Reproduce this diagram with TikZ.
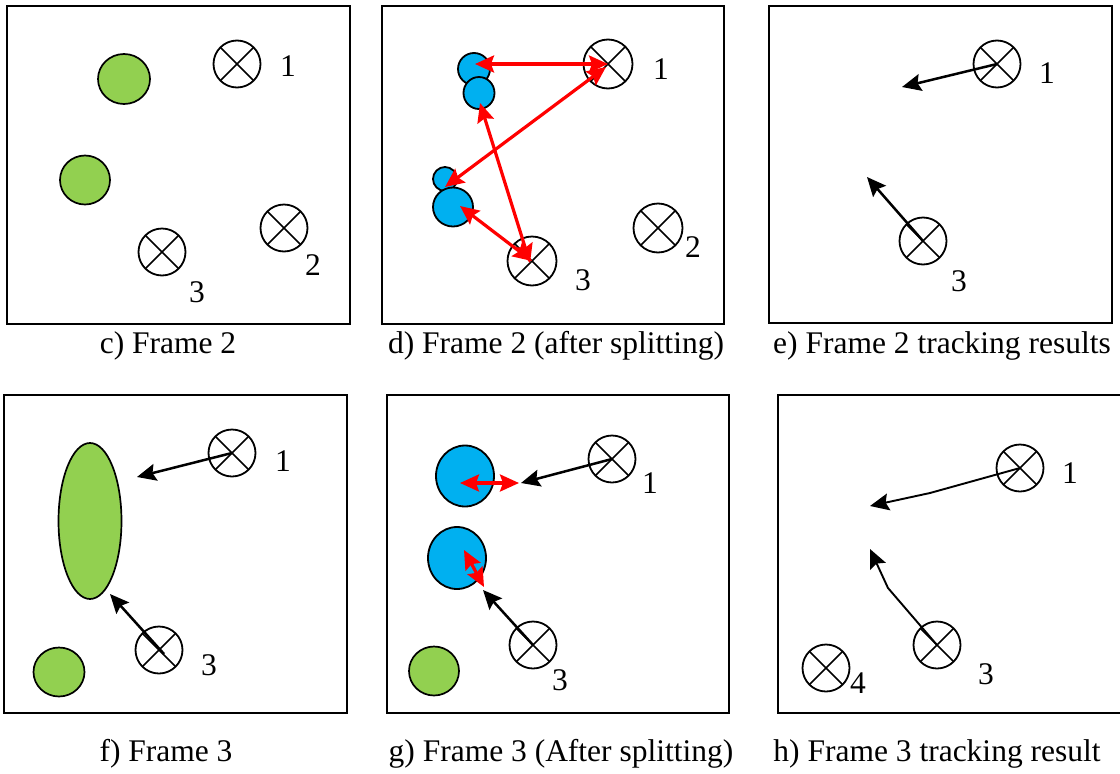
\documentclass[tikz,border=0pt]{standalone}
\usepackage{fontspec}
\setmainfont{Liberation Serif}
\usetikzlibrary{shapes.geometric,arrows.meta}

\definecolor{blobgreen}{HTML}{92D050}
\definecolor{blobblue}{HTML}{00B0F0}
\definecolor{linkred}{HTML}{FF0000}

\begin{document}
\begin{tikzpicture}[x=1pt,y=-1pt,
  frame/.style={draw, line width=2pt},
  target/.style={circle, draw, line width=1.8pt, minimum size=47pt, inner sep=0pt,
    path picture={\draw[line width=1.7pt]
      ([shift={(45:30pt)}]path picture bounding box.center) -- ([shift={(225:30pt)}]path picture bounding box.center)
      ([shift={(135:30pt)}]path picture bounding box.center) -- ([shift={(-45:30pt)}]path picture bounding box.center);}},
  gblob/.style={ellipse, draw, line width=1.7pt, fill=blobgreen, inner sep=0pt},
  bblob/.style={ellipse, draw, line width=1.8pt, fill=blobblue, inner sep=0pt},
  num/.style={inner sep=0pt, font=\rmfamily\fontsize{31.5}{36}\selectfont},
  caption/.style={inner sep=0pt, anchor=base, font=\rmfamily\fontsize{31.5}{36}\selectfont},
  head/.tip={Stealth[length=19pt,width=17pt,inset=3pt]},
  move/.style={line width=2.5pt, -head},
  thinmove/.style={line width=1.9pt, line join=round, -head},
  link/.style={linkred, line width=3.2pt, head-head}
]
\useasboundingbox (0,0) rectangle (1120,774);

% ---------- c) Frame 2 ----------
\draw[frame] (7,6) rectangle (350,324);
\node[gblob, minimum width=52pt, minimum height=50pt] (cg1) at (124,79) {};
\node[gblob, minimum width=50pt, minimum height=49pt] (cg2) at (85,180) {};
\node[target] (ct1) at (237,64) {};
\node[num] (cn1) at (288,66) {1};
\node[target] (ct2) at (284,228) {};
\node[num] (cn2) at (313,265) {2};
\node[target] (ct3) at (162,252) {};
\node[num] (cn3) at (197,292) {3};
\node[caption] (ccap) at (168,353) {c) Frame 2};

% ---------- d) Frame 2 (after splitting) ----------
\draw[frame] (382,6) rectangle (724,324);
\node[bblob, minimum width=32pt, minimum height=32pt] (dbA) at (474,69) {};
\node[bblob, minimum width=31pt, minimum height=32pt] (dbB) at (479,93) {};
\node[bblob, minimum width=24pt, minimum height=24pt] (dbC) at (445,179) {};
\node[bblob, minimum width=40pt, minimum height=39pt] (dbD) at (453,207) {};
\node[target, minimum size=49pt] (dt1) at (608,64) {};
\node[num] (dn1) at (661,69) {1};
\node[target, minimum size=49pt] (dt2) at (658,228) {};
\node[num] (dn2) at (693,247) {2};
\node[target, minimum size=49pt] (dt3) at (532,261) {};
\node[num] (dn3) at (583,280) {3};
\coordinate (dpA) at (475,64);
\coordinate (dpC) at (445,187);
\coordinate (dpB) at (480,103);
\coordinate (dpD) at (460,206);
\draw[link] (dpA) -- (dt1.center);
\draw[link] (dpC) -- ([shift={(-2,3)}]dt1.center);
\draw[link] (dpB) -- ([shift={(-2,2)}]dt3.center);
\draw[link] (dpD) -- (dt3.center);
\node[caption] (dcap) at (556,353) {d) Frame 2 (after splitting)};

% ---------- e) Frame 2 tracking results ----------
\draw[frame] (769,6) rectangle (1112,323);
\node[target] (et1) at (997,64) {};
\node[num] (en1) at (1047,73) {1};
\node[target] (et3) at (923,241) {};
\node[num] (en3) at (959,281) {3};
\coordinate (ep1) at (902,87);
\coordinate (ep3) at (867,177);
\draw[move] (et1.center) -- (ep1);
\draw[move] (et3.center) -- (ep3);
\node[caption] (ecap) at (942,353) {e) Frame 2 tracking results};

% ---------- f) Frame 3 ----------
\draw[frame] (4,395) rectangle (347,713);
\node[gblob, minimum width=63pt, minimum height=156pt] (fg1) at (90,521) {};
\node[gblob, minimum width=51pt, minimum height=49pt] (fg2) at (59,672) {};
\node[target] (ft1) at (232,453) {};
\node[num] (fn1) at (283,461) {1};
\node[target] (ft3) at (159,650) {};
\node[num] (fn3) at (209,665) {3};
\coordinate (fp1) at (137,477);
\coordinate (fp3) at (110,594);
\draw[move] (ft1.center) -- (fp1);
\draw[move] ([shift={(5,4)}]ft3.center) -- (fp3);
\node[caption] (fcap) at (166,761) {f) Frame 3};

% ---------- g) Frame 3 (After splitting) ----------
\draw[frame] (387,395) rectangle (729,713);
\node[bblob, minimum width=58pt, minimum height=61pt] (gb1) at (465,476) {};
\node[bblob, minimum width=58pt, minimum height=62pt] (gb2) at (457,558) {};
\node[gblob, minimum width=50pt, minimum height=49pt] (gg1) at (434,671) {};
\node[target] (gt1) at (612,459) {};
\node[num] (gn1) at (650,483) {1};
\node[target] (gt3) at (533,645) {};
\node[num] (gn3) at (560,680) {3};
\coordinate (gp1) at (521,483);
\coordinate (gp3) at (483,590);
\coordinate (gq1a) at (460,483);
\coordinate (gq1b) at (519,483);
\coordinate (gq3a) at (464,550);
\coordinate (gq3b) at (484,587);
\draw[move] (gt1.center) -- (gp1);
\draw[move] (gt3.center) -- (gp3);
\draw[link] (gq1a) -- (gq1b);
\draw[link] (gq3a) -- (gq3b);
\node[caption] (gcap) at (561,761) {g) Frame 3 (After splitting)};

% ---------- h) Frame 3 tracking result ----------
\draw[frame] (1124,395) -- (778,395) -- (778,713) -- (1124,713);
\node[target] (ht1) at (1020,468) {};
\node[num] (hn1) at (1070,473) {1};
\node[target] (ht3) at (937,645) {};
\node[num] (hn3) at (986,674) {3};
\node[target] (ht4) at (826,668) {};
\node[num] (hn4) at (858,683) {4};
\coordinate (hk1) at (930,493);
\coordinate (hp1) at (870,506);
\coordinate (hk3) at (888,588);
\coordinate (hp3) at (870,549);
\draw[thinmove] (ht1.center) -- (hk1) -- (hp1);
\draw[thinmove] (ht3.center) -- (hk3) -- (hp3);
\node[caption] (hcap) at (937,761) {h) Frame 3 tracking result};

\end{tikzpicture}
\end{document}
